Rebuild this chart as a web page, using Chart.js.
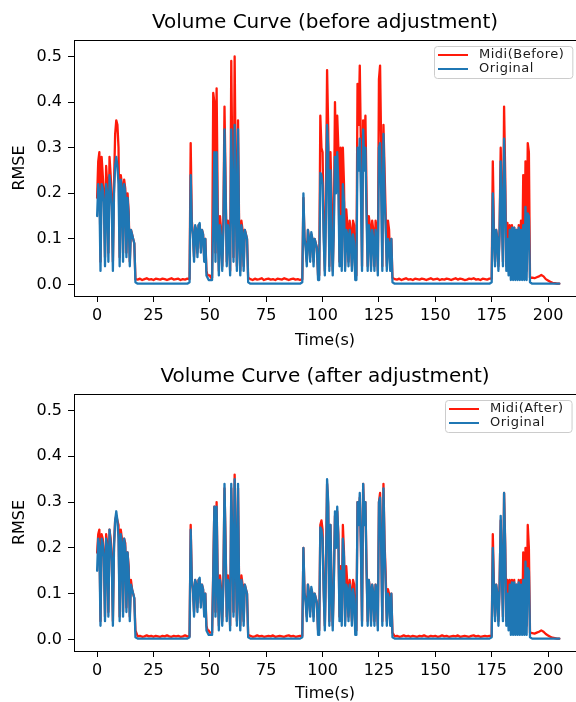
<!DOCTYPE html>
<html>
<head>
<meta charset="utf-8">
<script src="https://cdn.jsdelivr.net/npm/chart.js@4.4.1/dist/chart.umd.min.js"></script>
<style>
  html, body { margin: 0; padding: 0; background: #fff; overflow: hidden; }
  .panel { position: absolute; left: 0; width: 576px; height: 351px; }
</style>
</head>
<body>
<div class="panel" style="top:0"><canvas id="beforeChart" width="576" height="351"></canvas></div>
<div class="panel" style="top:351px"><canvas id="afterChart" width="576" height="351"></canvas></div>
<script>
const FONT = "'DejaVu Sans', 'Liberation Sans', sans-serif";

// time axis (s): half-second steps while playing, one second in the silences
const times = [
  // 0 - 17
  0, 0.5, 1, 1.5, 2, 2.5, 3, 3.5, 4, 4.5,
  5, 5.5, 6, 6.5, 7, 7.5, 8, 8.5, 9, 9.5,
  10, 10.5, 11, 11.5, 12, 12.5, 13, 13.5, 14, 14.5,
  15, 15.5, 16, 16.5, 17,
  // 18 - 40
  18, 19, 20, 21, 22, 23, 24, 25, 26, 27, 28, 29,
  30, 31, 32, 33, 34, 35, 36, 37, 38, 39, 40,
  // 41 - 67
  41, 41.5, 42, 42.5, 43, 43.5, 44, 44.5, 45, 45.5,
  46, 46.5, 47, 47.5, 48, 48.5, 49, 49.5, 50, 50.5,
  51, 51.5, 52, 52.5, 53, 53.5, 54, 54.5, 55, 55.5,
  56, 56.5, 57, 57.5, 58, 58.5, 59, 59.5, 60, 60.5,
  61, 61.5, 62, 62.5, 63, 63.5, 64, 64.5, 65, 65.5,
  66, 66.5, 67,
  // 68 - 90
  68, 69, 70, 71, 72, 73, 74, 75, 76, 77, 78, 79,
  80, 81, 82, 83, 84, 85, 86, 87, 88, 89, 90,
  // 91 - 131
  91, 91.5, 92, 92.5, 93, 93.5, 94, 94.5, 95, 95.5,
  96, 96.5, 97, 97.5, 98, 98.5, 99, 99.5, 100, 100.5,
  101, 101.5, 102, 102.5, 103, 103.5, 104, 104.5, 105, 105.5,
  106, 106.5, 107, 107.5, 108, 108.5, 109, 109.5, 110, 110.5,
  111, 111.5, 112, 112.5, 113, 113.5, 114, 114.5, 115, 115.5,
  116, 116.5, 117, 117.5, 118, 118.5, 119, 119.5, 120, 120.5,
  121, 121.5, 122, 122.5, 123, 123.5, 124, 124.5, 125, 125.5,
  126, 126.5, 127, 127.5, 128, 128.5, 129, 129.5, 130, 130.5,
  131,
  // 132 - 174
  132, 133, 134, 135, 136, 137, 138, 139,
  140, 141, 142, 143, 144, 145, 146, 147, 148, 149,
  150, 151, 152, 153, 154, 155, 156, 157, 158, 159,
  160, 161, 162, 163, 164, 165, 166, 167, 168, 169,
  170, 171, 172, 173, 174,
  // 175 - 192
  175, 175.5, 176, 176.5, 177, 177.5, 178, 178.5, 179, 179.5,
  180, 180.5, 181, 181.5, 182, 182.5, 183, 183.5, 184, 184.5,
  185, 185.5, 186, 186.5, 187, 187.5, 188, 188.5, 189, 189.5,
  190, 190.5, 191, 191.5, 192,
  // 193 - 205
  193, 194, 195, 196, 197, 198, 199, 200, 201, 202, 203, 204, 205
];

// RMSE of the original recording (blue, same in both panels)
const originalRmse = [
  0.15, 0.22, 0.20, 0.03, 0.22, 0.21, 0.18, 0.04, 0.22, 0.20,
  0.05, 0.24, 0.21, 0.17, 0.03, 0.20, 0.26, 0.28, 0.26, 0.22,
  0.04, 0.23, 0.21, 0.05, 0.22, 0.20, 0.06, 0.19, 0.15, 0.04,
  0.12, 0.11, 0.10, 0.09, 0.005,
  0.002, 0.002, 0.002, 0.002, 0.002, 0.002, 0.002, 0.002, 0.002, 0.002, 0.002, 0.002,
  0.002, 0.002, 0.002, 0.002, 0.002, 0.002, 0.002, 0.002, 0.002, 0.002, 0.002,
  0.005, 0.24, 0.13, 0.11, 0.05, 0.13, 0.12, 0.06, 0.13, 0.135,
  0.07, 0.12, 0.11, 0.05, 0.10, 0.02, 0.015, 0.01, 0.01, 0.01,
  0.01, 0.14, 0.29, 0.05, 0.29, 0.12, 0.02, 0.13, 0.10, 0.03,
  0.12, 0.34, 0.20, 0.04, 0.13, 0.10, 0.02, 0.34, 0.20, 0.05,
  0.35, 0.18, 0.03, 0.34, 0.10, 0.02, 0.13, 0.11, 0.03, 0.12,
  0.11, 0.10, 0.005,
  0.002, 0.002, 0.002, 0.002, 0.002, 0.002, 0.002, 0.002, 0.002, 0.002, 0.002, 0.002,
  0.002, 0.002, 0.002, 0.002, 0.002, 0.002, 0.002, 0.002, 0.002, 0.002, 0.002,
  0.005, 0.20, 0.10, 0.08, 0.04, 0.12, 0.10, 0.05, 0.115, 0.10,
  0.04, 0.10, 0.09, 0.08, 0.01, 0.01, 0.245, 0.24, 0.22, 0.10,
  0.02, 0.15, 0.35, 0.30, 0.03, 0.25, 0.10, 0.02, 0.12, 0.28,
  0.20, 0.29, 0.22, 0.04, 0.15, 0.03, 0.22, 0.18, 0.03, 0.12,
  0.11, 0.04, 0.12, 0.10, 0.03, 0.11, 0.09, 0.01, 0.01, 0.30,
  0.25, 0.32, 0.20, 0.03, 0.34, 0.25, 0.30, 0.15, 0.03, 0.13,
  0.11, 0.03, 0.12, 0.10, 0.03, 0.12, 0.10, 0.02, 0.30, 0.31,
  0.20, 0.03, 0.33, 0.20, 0.12, 0.03, 0.10, 0.09, 0.03, 0.10,
  0.005,
  0.002, 0.002, 0.002, 0.002, 0.002, 0.002, 0.002, 0.002,
  0.002, 0.002, 0.002, 0.002, 0.002, 0.002, 0.002, 0.002, 0.002, 0.002,
  0.002, 0.002, 0.002, 0.002, 0.002, 0.002, 0.002, 0.002, 0.002, 0.002,
  0.002, 0.002, 0.002, 0.002, 0.002, 0.002, 0.002, 0.002, 0.002, 0.002,
  0.002, 0.002, 0.002, 0.002, 0.002,
  0.005, 0.20, 0.11, 0.04, 0.12, 0.10, 0.03, 0.11, 0.27, 0.15,
  0.04, 0.32, 0.20, 0.03, 0.10, 0.02, 0.12, 0.01, 0.125, 0.01,
  0.125, 0.01, 0.12, 0.01, 0.125, 0.01, 0.12, 0.01, 0.13, 0.01,
  0.17, 0.01, 0.156, 0.15, 0.005,
  0.002, 0.002, 0.002, 0.002, 0.002, 0.002, 0.002, 0.002, 0.002, 0.002, 0.002, 0.002, 0.002
];

// RMSE of the midi rendering before adjustment (red, top panel)
const midiBefore = [
  0.19, 0.27, 0.29, 0.05, 0.28, 0.24, 0.20, 0.06, 0.26, 0.22,
  0.07, 0.28, 0.24, 0.19, 0.05, 0.22, 0.33, 0.36, 0.35, 0.30,
  0.06, 0.24, 0.22, 0.07, 0.23, 0.21, 0.07, 0.20, 0.16, 0.05,
  0.12, 0.11, 0.10, 0.09, 0.012,
  0.011, 0.013, 0.010, 0.012, 0.014, 0.011, 0.012, 0.010, 0.013, 0.012, 0.011, 0.013,
  0.012, 0.010, 0.012, 0.014, 0.011, 0.012, 0.013, 0.010, 0.012, 0.011, 0.013,
  0.012, 0.31, 0.14, 0.11, 0.06, 0.12, 0.12, 0.07, 0.13, 0.13,
  0.08, 0.12, 0.11, 0.06, 0.10, 0.03, 0.02, 0.02, 0.02, 0.015,
  0.015, 0.42, 0.40, 0.07, 0.43, 0.17, 0.03, 0.15, 0.12, 0.04,
  0.14, 0.39, 0.22, 0.05, 0.14, 0.12, 0.03, 0.49, 0.25, 0.06,
  0.50, 0.22, 0.04, 0.36, 0.12, 0.03, 0.14, 0.12, 0.04, 0.12,
  0.11, 0.10, 0.015,
  0.012, 0.010, 0.013, 0.011, 0.012, 0.014, 0.010, 0.012, 0.013, 0.011, 0.012, 0.010,
  0.013, 0.012, 0.011, 0.014, 0.012, 0.010, 0.012, 0.013, 0.011, 0.012, 0.010,
  0.012, 0.19, 0.10, 0.09, 0.05, 0.12, 0.10, 0.06, 0.11, 0.10,
  0.05, 0.10, 0.09, 0.08, 0.02, 0.02, 0.37, 0.30, 0.29, 0.12,
  0.03, 0.19, 0.47, 0.34, 0.04, 0.29, 0.19, 0.03, 0.14, 0.40,
  0.26, 0.37, 0.30, 0.05, 0.30, 0.04, 0.30, 0.22, 0.04, 0.165,
  0.13, 0.05, 0.14, 0.12, 0.04, 0.14, 0.13, 0.02, 0.02, 0.44,
  0.35, 0.48, 0.30, 0.04, 0.36, 0.30, 0.37, 0.20, 0.04, 0.15,
  0.13, 0.04, 0.14, 0.12, 0.04, 0.14, 0.12, 0.03, 0.45, 0.48,
  0.30, 0.04, 0.35, 0.25, 0.15, 0.04, 0.14, 0.12, 0.04, 0.10,
  0.015,
  0.012, 0.011, 0.013, 0.010, 0.012, 0.014, 0.011, 0.012,
  0.010, 0.013, 0.012, 0.011, 0.013, 0.012, 0.010, 0.012, 0.014, 0.011,
  0.012, 0.013, 0.010, 0.012, 0.011, 0.013, 0.012, 0.010, 0.012, 0.014,
  0.011, 0.013, 0.012, 0.010, 0.011, 0.013, 0.012, 0.014, 0.011, 0.012,
  0.010, 0.013, 0.012, 0.011, 0.013,
  0.013, 0.27, 0.12, 0.05, 0.12, 0.10, 0.04, 0.12, 0.30, 0.17,
  0.05, 0.39, 0.24, 0.04, 0.135, 0.03, 0.13, 0.02, 0.13, 0.02,
  0.125, 0.02, 0.12, 0.02, 0.13, 0.02, 0.14, 0.02, 0.24, 0.03,
  0.27, 0.03, 0.31, 0.29, 0.015,
  0.015, 0.014, 0.016, 0.018, 0.021, 0.018, 0.012, 0.009, 0.006, 0.004, 0.003, 0.002, 0.002
];

// RMSE of the midi rendering after adjustment (red, bottom panel)
const midiAfter = [
  0.19, 0.23, 0.24, 0.04, 0.23, 0.22, 0.19, 0.05, 0.23, 0.21,
  0.06, 0.24, 0.22, 0.18, 0.04, 0.21, 0.26, 0.27, 0.26, 0.25,
  0.05, 0.24, 0.22, 0.06, 0.22, 0.21, 0.07, 0.19, 0.16, 0.05,
  0.13, 0.11, 0.10, 0.09, 0.02,
  0.007, 0.008, 0.006, 0.007, 0.009, 0.007, 0.008, 0.006, 0.008, 0.007, 0.006, 0.008,
  0.007, 0.009, 0.007, 0.006, 0.008, 0.007, 0.008, 0.006, 0.007, 0.009, 0.007,
  0.007, 0.25, 0.13, 0.11, 0.06, 0.13, 0.12, 0.07, 0.13, 0.13,
  0.08, 0.12, 0.11, 0.06, 0.10, 0.03, 0.02, 0.02, 0.015, 0.015,
  0.015, 0.15, 0.29, 0.06, 0.30, 0.13, 0.03, 0.14, 0.11, 0.04,
  0.13, 0.33, 0.21, 0.05, 0.14, 0.11, 0.03, 0.33, 0.21, 0.06,
  0.36, 0.19, 0.04, 0.33, 0.11, 0.03, 0.14, 0.12, 0.04, 0.12,
  0.11, 0.10, 0.01,
  0.008, 0.006, 0.007, 0.009, 0.007, 0.008, 0.006, 0.007, 0.008, 0.007, 0.009, 0.006,
  0.007, 0.008, 0.007, 0.006, 0.008, 0.009, 0.007, 0.008, 0.006, 0.007, 0.008,
  0.008, 0.20, 0.10, 0.09, 0.05, 0.12, 0.10, 0.06, 0.11, 0.10,
  0.05, 0.10, 0.09, 0.08, 0.02, 0.02, 0.25, 0.26, 0.24, 0.11,
  0.03, 0.16, 0.34, 0.29, 0.04, 0.25, 0.11, 0.03, 0.13, 0.27,
  0.21, 0.28, 0.23, 0.05, 0.16, 0.04, 0.25, 0.19, 0.04, 0.16,
  0.12, 0.05, 0.13, 0.11, 0.04, 0.13, 0.12, 0.02, 0.02, 0.30,
  0.26, 0.31, 0.21, 0.04, 0.34, 0.26, 0.30, 0.16, 0.04, 0.13,
  0.11, 0.04, 0.12, 0.10, 0.04, 0.12, 0.10, 0.03, 0.30, 0.32,
  0.21, 0.04, 0.34, 0.21, 0.14, 0.04, 0.11, 0.10, 0.04, 0.10,
  0.015,
  0.007, 0.008, 0.006, 0.007, 0.009, 0.007, 0.008, 0.006,
  0.008, 0.007, 0.006, 0.008, 0.007, 0.009, 0.007, 0.006, 0.008, 0.007,
  0.008, 0.006, 0.007, 0.009, 0.007, 0.008, 0.006, 0.007, 0.008, 0.007,
  0.009, 0.006, 0.007, 0.008, 0.007, 0.006, 0.008, 0.009, 0.007, 0.008,
  0.006, 0.007, 0.008, 0.007, 0.008,
  0.008, 0.23, 0.12, 0.05, 0.12, 0.10, 0.04, 0.12, 0.26, 0.16,
  0.05, 0.32, 0.21, 0.04, 0.13, 0.03, 0.13, 0.02, 0.13, 0.02,
  0.13, 0.02, 0.12, 0.02, 0.13, 0.02, 0.13, 0.02, 0.19, 0.03,
  0.20, 0.03, 0.25, 0.20, 0.015,
  0.014, 0.013, 0.015, 0.017, 0.020, 0.017, 0.012, 0.009, 0.006, 0.004, 0.003, 0.002, 0.002
];

const xTicksStep = 25;
const yTicksStep = 0.1;

// top spine + matplotlib-like legend box
const frameLegend = {
  id: "frameLegend",
  afterDatasetsDraw(chart) {
    const { ctx, chartArea: a } = chart;
    const sets = chart.data.datasets;
    ctx.save();
    ctx.strokeStyle = "#000";
    ctx.lineWidth = 1;
    const ty = Math.floor(a.top) + 0.5;
    ctx.beginPath();
    ctx.moveTo(a.left, ty);
    ctx.lineTo(a.right, ty);
    ctx.stroke();

    ctx.font = "13px " + FONT;
    ctx.letterSpacing = "0.5px";
    const textW = Math.max(...sets.map(d => ctx.measureText(d.label).width));
    const w = 45 + textW + 8;
    const h = 32;
    const x0 = Math.round(a.right - 4 - w);
    const y0 = Math.round(a.top + 6);
    ctx.fillStyle = "rgba(255,255,255,0.85)";
    ctx.strokeStyle = "#cccccc";
    ctx.beginPath();
    ctx.roundRect(x0 + 0.5, y0 + 0.5, w, h, 3);
    ctx.fill();
    ctx.stroke();
    sets.forEach((d, i) => {
      const y = y0 + 9 + i * 14;
      ctx.strokeStyle = d.borderColor;
      ctx.lineWidth = 2;
      ctx.beginPath();
      ctx.moveTo(x0 + 4, y);
      ctx.lineTo(x0 + 34, y);
      ctx.stroke();
      ctx.fillStyle = "#1a1a1a";
      ctx.textBaseline = "middle";
      ctx.fillText(d.label, x0 + 45, y);
    });
    ctx.restore();
  }
};

function makeChart(canvasId, titleText, midiLabel, midiValues, titlePad, xHeight, xTitlePad) {
  const ctx = document.getElementById(canvasId);
  return new Chart(ctx, {
    type: "line",
    data: {
      datasets: [
        {
          label: midiLabel,
          data: times.map((t, i) => ({ x: t, y: midiValues[i] })),
          borderColor: "#ff1a0a",
          borderWidth: 2.3,
          order: 1
        },
        {
          label: "Original",
          data: times.map((t, i) => ({ x: t, y: originalRmse[i] })),
          borderColor: "#1f77b4",
          borderWidth: 2.3,
          order: 0
        }
      ]
    },
    options: {
      responsive: false,
      animation: false,
      events: [],
      elements: {
        point: { radius: 0 },
        line: { tension: 0, borderJoinStyle: "round", borderCapStyle: "round" }
      },
      layout: { padding: 0 },
      plugins: {
        legend: { display: false },
        tooltip: { enabled: false },
        title: {
          display: true,
          text: titleText,
          fullSize: false,
          color: "#000",
          font: { family: FONT, size: 20, weight: "normal", lineHeight: 1.2 },
          padding: { top: titlePad[0], bottom: titlePad[1] }
        }
      },
      scales: {
        x: {
          type: "linear",
          min: -10.25,
          max: 212.4,
          ticks: {
            stepSize: xTicksStep,
            includeBounds: false,
            maxRotation: 0,
            autoSkip: false,
            color: "#000",
            padding: 4,
            font: { family: FONT, size: 16, lineHeight: 1.2 }
          },
          grid: { drawOnChartArea: false, tickLength: 6, color: "#000" },
          border: { color: "#000", width: 1 },
          title: {
            display: true,
            text: "Time(s)",
            color: "#000",
            font: { family: FONT, size: 16, lineHeight: 1 },
            padding: { top: 0, bottom: xTitlePad }
          },
          afterFit: s => { s.height = xHeight; }
        },
        y: {
          min: -0.025,
          max: 0.536,
          ticks: {
            stepSize: yTicksStep,
            includeBounds: false,
            color: "#000",
            padding: 6,
            font: { family: FONT, size: 16 },
            callback: v => v.toFixed(1)
          },
          grid: { drawOnChartArea: false, tickLength: 6, color: "#000" },
          border: { color: "#000", width: 1 },
          title: {
            display: true,
            text: "RMSE",
            color: "#000",
            font: { family: FONT, size: 16, lineHeight: 1 },
            padding: { top: 12, bottom: 0 }
          },
          afterFit: s => { s.width = 74; }
        }
      }
    },
    plugins: [frameLegend]
  });
}

makeChart("beforeChart", "Volume Curve (before adjustment)", "Midi(Before)", midiBefore, [10.5, 5.5], 55, 2.5);
makeChart("afterChart", "Volume Curve (after adjustment)", "Midi(After)", midiAfter, [14, 5], 51, 0);
</script>
</body>
</html>
